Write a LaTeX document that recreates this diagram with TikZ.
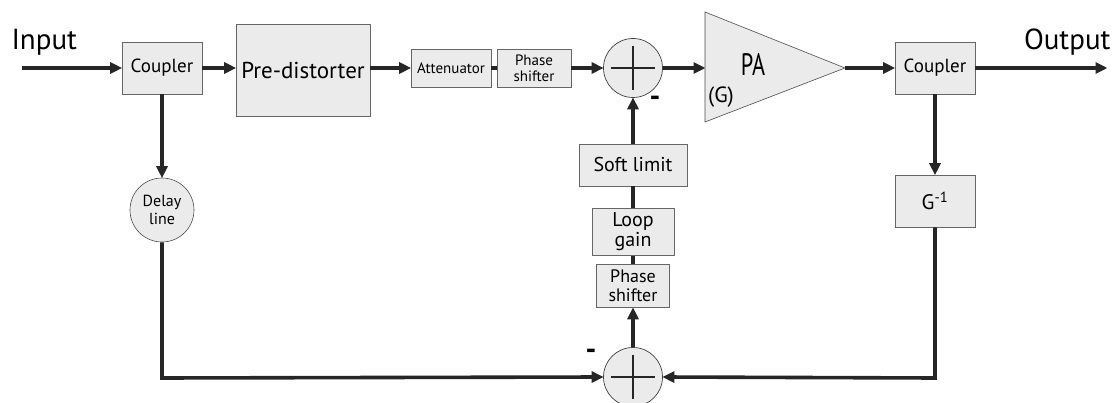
\documentclass[tikz,border=0pt]{standalone}
\usepackage{fontspec}
\setmainfont{PT Sans}
\usetikzlibrary{arrows.meta,calc}
\begin{document}
\begin{tikzpicture}[x=1pt,y=-1pt,
  blk/.style={draw=black!60,line width=0.6pt,fill=black!8,inner sep=0pt},
  sumnode/.style={circle,draw=black!75,line width=0.7pt,fill=black!8,minimum size=59pt,inner sep=0pt},
  wire/.style={line width=3.6pt,draw=black!85},
  flow/.style={wire,-{Triangle[length=12pt,width=11pt]},shorten >=-0.5pt},
  fs/.style={font=\fontsize{#1}{#1}\selectfont},
  two/.style 2 args={align=center,font=\fontsize{#1}{#2}\selectfont},
  minus/.style={font=\bfseries\fontsize{30}{30}\selectfont}]
\useasboundingbox (0,0) rectangle (1117,403);

% forward path blocks
\node[blk,minimum width=80pt,minimum height=52pt,fs=19] (cp1) at (162,68) {Coupler};
\node[blk,minimum width=134pt,minimum height=92pt,fs=23] (pd) at (303,70) {Pre-distorter};
\node[blk,minimum width=80pt,minimum height=38pt,fs=15] (att) at (451,68) {Attenuator};
\node[blk,minimum width=74pt,minimum height=38pt,two={15}{16}] (ps1) at (534,68) {Phase\\shifter};
\node[sumnode] (s1) at (633,68) {};
\node[blk,minimum width=80pt,minimum height=52pt,fs=19] (cp2) at (935,68) {Coupler};

% power amplifier
\coordinate (paTL) at (705,12);
\coordinate (paBL) at (705,122);
\coordinate (paTip) at (845,68);
\coordinate (paIn) at (705,68);
\draw[draw=black!70,line width=0.6pt,fill=black!8] (paTL) -- (paTip) -- (paBL) -- cycle;
\node[font=\fontsize{31}{31}\selectfont\addfontfeatures{FakeStretch=0.72}] (pa) at (753,64) {PA};
\node[fs=22] (gain) at (721,97) {(G)};

% feedback path blocks
\node[circle,draw=black!70,line width=0.6pt,fill=black!8,minimum size=64pt,inner sep=0pt,two={16}{18}] (dl) at (162,210) {Delay\\line};
\node[blk,minimum width=80pt,minimum height=52pt,fs=21] (ginv) at (935,201) {G\textsuperscript{-1}};
\node[blk,minimum width=108pt,minimum height=42pt,fs=20] (sl) at (633,165) {Soft limit};
\node[blk,minimum width=82pt,minimum height=47pt,two={20}{20}] (lg) at (633,232) {Loop\\gain};
\node[blk,minimum width=73pt,minimum height=43pt,two={18}{19}] (ps2) at (633,286) {Phase\\shifter};
\node[sumnode] (s2) at (633,377) {};

% plus signs inside the summing junctions
\foreach \s in {s1,s2}{
  \draw[line width=1.6pt,black!85] ($(\s)+(-22,0)$) -- ($(\s)+(22,0)$);
  \draw[line width=1.6pt,black!85] ($(\s)+(0,-22)$) -- ($(\s)+(0,22)$);
}

% terminal labels and signs
\node[fs=29,anchor=west] (inlbl) at (8,42) {Input};
\node[fs=29,anchor=east] (outlbl) at (1114,42) {Output};
\node[minus] (m1) at (655,101) {-};
\node[minus] (m2) at (591,354) {-};

\coordinate (inpt) at (22,68);
\coordinate (outpt) at (1107,68);
\coordinate (dlc) at (162,378);
\coordinate (gc) at (935,378);

% connectors
\draw[flow] (inpt) -- (cp1.west);
\draw[flow] (cp1.east) -- (cp1.east -| pd.west);
\draw[flow] (pd.east |- att.west) -- (att.west);
\draw[wire] (att.east) -- (ps1.west);
\draw[flow] (ps1.east) -- (s1.west);
\draw[flow] (s1.east) -- (paIn);
\draw[flow] (paTip) -- (cp2.west);
\draw[flow] (cp2.east) -- (outpt);
\draw[flow] (cp1.south) -- (dl.north);
\draw[flow] (dl.south) -- (dlc) -- (s2.west);
\draw[flow] (cp2.south) -- (ginv.north);
\draw[flow] (ginv.south) -- (gc) -- (s2.east);
\draw[flow] (s2.north) -- (ps2.south);
\draw[wire] (ps2.north) -- (lg.south);
\draw[wire] (lg.north) -- (sl.south);
\draw[flow] (sl.north) -- (s1.south);
\end{tikzpicture}
\end{document}
